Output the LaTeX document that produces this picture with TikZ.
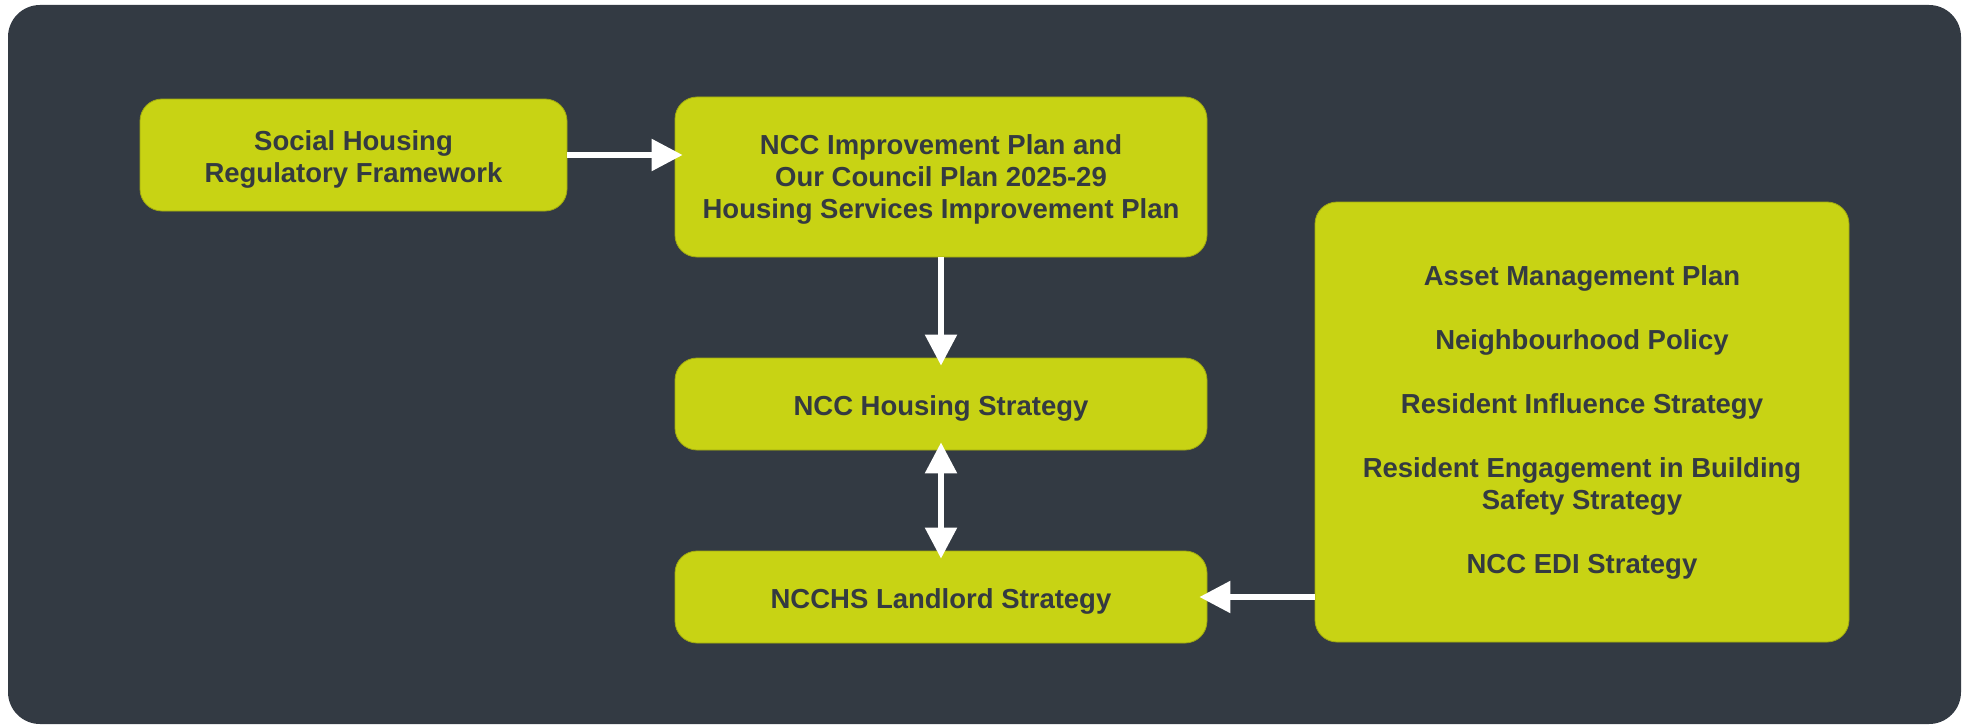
\documentclass[tikz,border=0pt]{standalone}
\usepackage{fontspec}
\setmainfont{Liberation Sans}
\usetikzlibrary{arrows.meta}
\definecolor{panel}{HTML}{333A43}
\definecolor{lime}{HTML}{C8D314}
\definecolor{ink}{HTML}{343A41}
% centred lines, dropped slightly so the capitals sit on the box middle
\newcommand\boxlines[2]{\raisebox{#1}[\height][\depth]{\begin{tabular}{@{}c@{}}#2\end{tabular}}}
\begin{document}
\begin{tikzpicture}[x=1pt,y=-1pt,
  card/.style={fill=lime, draw=lime!80!black, line width=0.8pt, rounded corners=22pt,
    text=ink, font=\bfseries\fontsize{27.5}{32}\selectfont, align=center, inner sep=0pt},
  flow/.style={draw=white, line width=5.5pt, -{Triangle[length=31pt,width=31pt]}, shorten >=-8pt},
  twoway/.style={draw=white, line width=5.5pt, {Triangle[length=31pt,width=31pt]}-{Triangle[length=31pt,width=31pt]},
    shorten >=-8pt, shorten <=-8pt}
]
% page and dark panel
\useasboundingbox (0,0) rectangle (1966,725);
\fill[white] (0,0) rectangle (1966,725);
\fill[panel, rounded corners=32pt] (8,5) rectangle (1961,724);

% boxes
\node[card, minimum width=427pt, minimum height=112pt] (A) at (353.5,155)
  {\boxlines{-5.5pt}{Social Housing\\Regulatory Framework}};
\node[card, minimum width=532pt, minimum height=160pt] (B) at (941,177)
  {\boxlines{-3pt}{NCC Improvement Plan and\\Our Council Plan 2025-29\\Housing Services Improvement Plan}};
\node[card, minimum width=532pt, minimum height=92pt] (C) at (941,404)
  {\boxlines{-5.5pt}{NCC Housing Strategy}};
\node[card, minimum width=532pt, minimum height=92pt] (D) at (941,597)
  {\boxlines{-5.5pt}{NCCHS Landlord Strategy}};
\node[card, minimum width=534pt, minimum height=440pt] (E) at (1582,422)
  {Asset Management Plan\\[32pt]Neighbourhood Policy\\[32pt]Resident Influence Strategy\\[32pt]Resident Engagement in Building\\Safety Strategy\\[32pt]NCC EDI Strategy};

% connectors
\draw[flow] (A.east) -- (A.east -| B.west);
\draw[flow] (B.south) -- (C.north);
\draw[twoway] (C.south) -- (D.north);
\draw[flow] (D.east -| E.west) -- (D.east);
\end{tikzpicture}
\end{document}
